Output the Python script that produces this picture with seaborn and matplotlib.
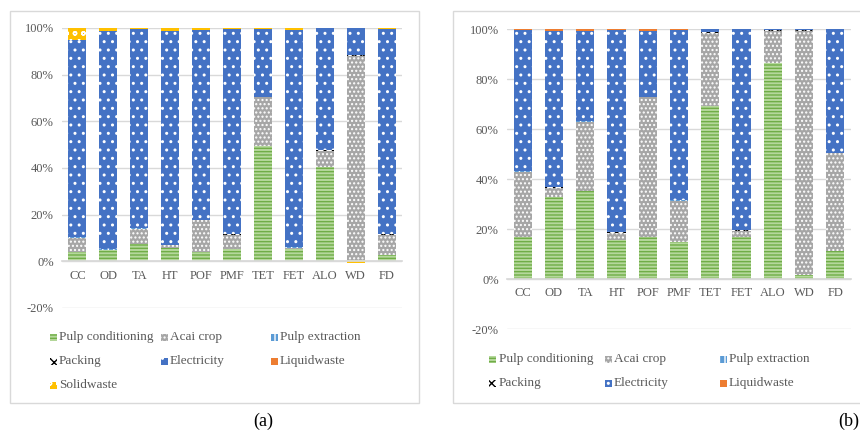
import numpy as np
import pandas as pd
import seaborn as sns
import matplotlib.pyplot as plt
from matplotlib.patches import Rectangle

# Categories
cats = ['CC', 'OD', 'TA', 'HT', 'POF', 'PMF', 'TET', 'FET', 'ALO', 'WD', 'FD']
series = ['Pulp conditioning', 'Acai crop', 'Pulp extraction', 'Packing',
          'Electricity', 'Liquidwaste', 'Solidwaste']

# Panel (a) values, % share
pulp_cond_a = [4.0, 4.7, 7.6, 5.9, 4.0, 5.4, 49.6, 5.4, 40.5, 0.7, 2.6]
acai_a = [6.2, 0.3, 6.4, 1.0, 13.6, 5.8, 20.7, 0.5, 6.8, 87.4, 8.6]
pulp_ext_a = [0.1, 0.1, 0.1, 0.1, 0.1, 0.1, 0.1, 0.1, 0.1, 0.1, 0.1]
packing_a = [0.2, 0.2, 0.2, 0.2, 0.2, 0.2, 0.2, 0.2, 0.2, 0.2, 0.2]
elec_a = [84.2, 93.3, 85.1, 91.7, 81.1, 88.1, 29.1, 93.1, 52.2, 11.6, 88.2]
liquid_a = [0.0, 0.0, 0.0, 0.0, 0.0, 0.0, 0.0, 0.0, 0.0, 0.0, 0.0]
solid_a = [5.3, 1.4, 0.6, 1.1, 1.0, 0.4, 0.3, 0.7, 0.2, -0.6, 0.3]

# Panel (b) values, % share
pulp_cond_b = [16.8, 33.0, 35.4, 15.7, 16.8, 15.0, 69.2, 16.8, 86.3, 1.7, 11.1]
acai_b = [26.2, 3.4, 27.6, 2.7, 55.9, 16.4, 29.3, 2.5, 13.0, 97.6, 39.2]
pulp_ext_b = [0.1, 0.1, 0.1, 0.1, 0.1, 0.1, 0.1, 0.1, 0.1, 0.1, 0.1]
packing_b = [0.2, 0.2, 0.2, 0.2, 0.2, 0.2, 0.2, 0.2, 0.2, 0.2, 0.2]
elec_b = [56.3, 62.6, 35.9, 81.1, 26.3, 68.1, 1.2, 80.3, 0.4, 0.4, 49.3]
liquid_b = [0.4, 0.7, 0.8, 0.2, 0.7, 0.2, 0.1, 0.1, 0.1, 0.0, 0.1]

# styles: facecolor, hatch colour, hatch
styles = {
    'Pulp conditioning': ('#b5d89c', '#70AD47', '-----'),
    'Acai crop': ('#a6a6a6', 'white', '....'),
    'Pulp extraction': ('#5B9BD5', 'white', '|||'),
    'Packing': ('white', 'black', 'xxxx'),
    'Electricity': ('#4472C4', 'white', '..'),
    'Liquidwaste': ('#ED7D31', 'white', ''),
    'Solidwaste': ('#FFC000', 'white', 'oo'),
}

TXT = '#595959'
W, H = 860, 432

sns.set_theme(style='white')
plt.rcParams['font.family'] = ['Liberation Serif', 'DejaVu Serif']
plt.rcParams['hatch.linewidth'] = 1.0

fig = plt.figure(figsize=(8.6, 4.32), dpi=100)


def fx(x):
    return x / W


def fy(y):
    return 1 - y / H


def draw_panel(rect, data):
    ax = fig.add_axes(rect)
    pos = np.zeros(len(cats))
    neg = np.zeros(len(cats))
    for name, vals in data:
        vals = np.array(vals, dtype=float)
        bottom = np.where(vals >= 0, pos, neg)
        fc, hc, hatch = styles[name]
        df = pd.DataFrame({'cat': cats, 'val': vals})
        sns.barplot(data=df, x='cat', y='val', ax=ax, color=fc, saturation=1,
                    errorbar=None, width=0.58, bottom=bottom, edgecolor=hc,
                    hatch=hatch, linewidth=0)
        pos = pos + np.clip(vals, 0, None)
        neg = neg + np.clip(vals, None, 0)
    ax.set_ylim(-20, 100)
    ax.set_xlim(-0.5, len(cats) - 0.5)
    ax.set_yticks([-20, 0, 20, 40, 60, 80, 100])
    ax.set_yticklabels([f'{v}%' for v in [-20, 0, 20, 40, 60, 80, 100]])
    ax.yaxis.grid(True, color='#d9d9d9', linewidth=1)
    ax.set_axisbelow(True)
    for s in ['top', 'right', 'left']:
        ax.spines[s].set_visible(False)
    ax.spines['bottom'].set_position(('data', 0))
    ax.spines['bottom'].set_color('#d9d9d9')
    ax.tick_params(axis='both', length=0, labelsize=9, colors=TXT, pad=6)
    ax.set_xlabel('')
    ax.set_ylabel('')
    return ax


def legend_entry(x, y, name, fs=9.5):
    fc, hc, hatch = styles[name]
    fig.add_artist(Rectangle((fx(x - 3.5), fy(y + 3.5)), 7 / W, 7 / H,
                             transform=fig.transFigure, facecolor=fc,
                             edgecolor=hc, hatch=hatch, linewidth=0))
    fig.text(fx(x + 6), fy(y), name, fontsize=fs, color=TXT, va='center', ha='left')


# frames
fig.add_artist(Rectangle((fx(10), fy(403)), 409 / W, 392 / H, transform=fig.transFigure,
                         fill=False, edgecolor='#d9d9d9', linewidth=1))
fig.add_artist(Rectangle((fx(453), fy(403)), 420 / W, 392 / H, transform=fig.transFigure,
                         fill=False, edgecolor='#d9d9d9', linewidth=1))

data_a = [('Pulp conditioning', pulp_cond_a), ('Acai crop', acai_a),
          ('Pulp extraction', pulp_ext_a), ('Packing', packing_a),
          ('Electricity', elec_a), ('Liquidwaste', liquid_a), ('Solidwaste', solid_a)]
data_b = [('Pulp conditioning', pulp_cond_b), ('Acai crop', acai_b),
          ('Pulp extraction', pulp_ext_b), ('Packing', packing_b),
          ('Electricity', elec_b), ('Liquidwaste', liquid_b)]

draw_panel([fx(62), fy(308), 340 / W, 280 / H], data_a)
draw_panel([fx(507), fy(329), 344 / W, 300 / H], data_b)

# legends
cols_a = [53, 164, 274]
rows_a = [337, 361, 385]
for i, name in enumerate(series):
    legend_entry(cols_a[i % 3], rows_a[i // 3], name)

cols_b = [493, 608, 723]
rows_b = [359, 383]
for i, name in enumerate(series[:6]):
    legend_entry(cols_b[i % 3], rows_b[i // 3], name)

fig.text(fx(263), fy(421), '(a)', fontsize=13, color='black', ha='center', va='center')
fig.text(fx(849), fy(421), '(b)', fontsize=13, color='black', ha='center', va='center')

plt.savefig('out.png', dpi=100)
